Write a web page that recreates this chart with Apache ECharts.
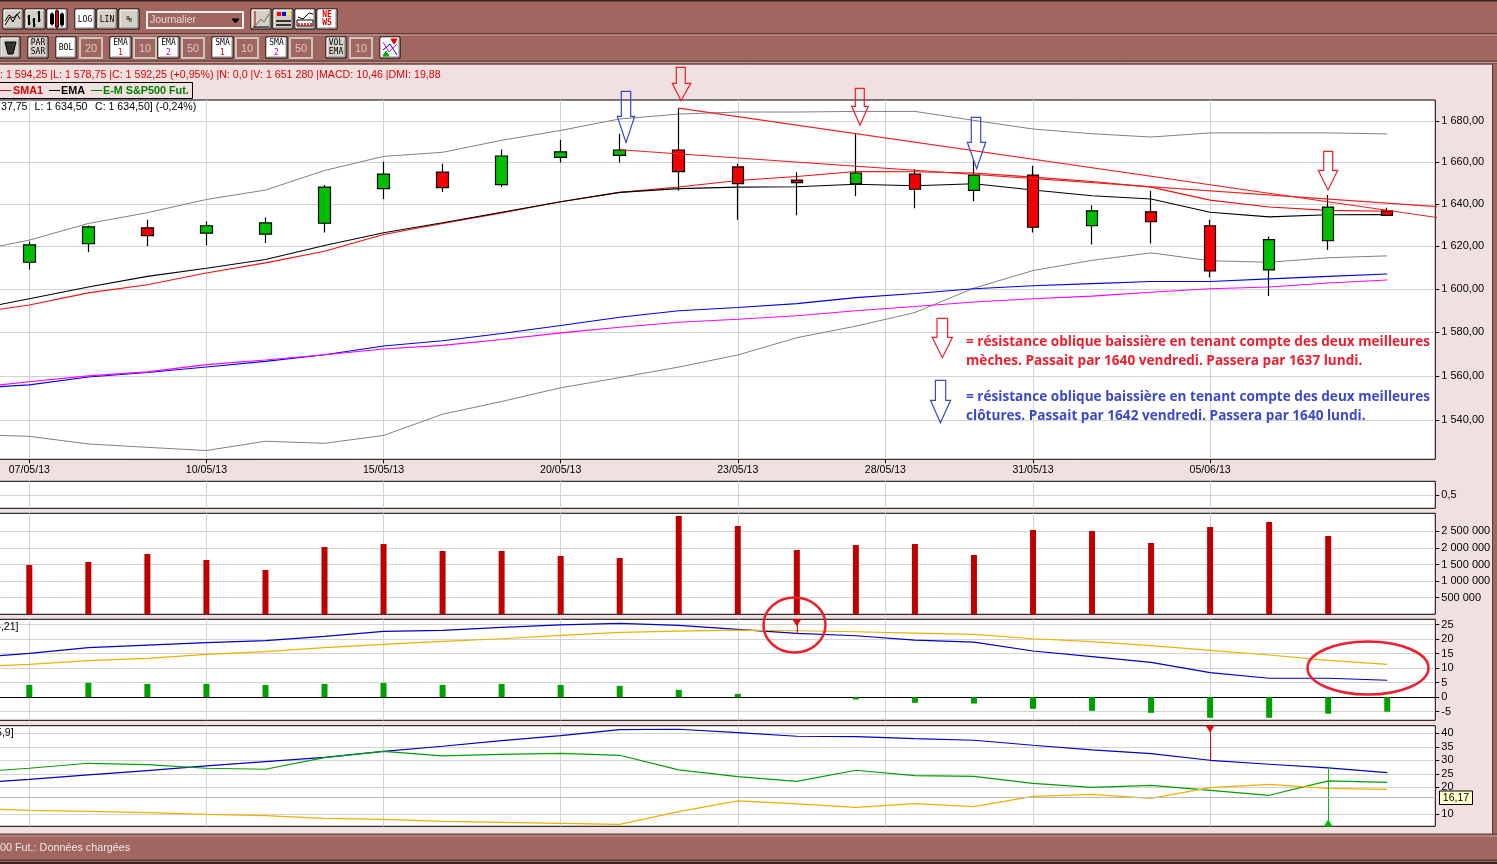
<!DOCTYPE html>
<html>
<head>
<meta charset="utf-8">
<style>html,body{margin:0;padding:0;background:#F0E0E0;overflow:hidden}#c{width:1497px;height:864px}</style>
<script src="https://cdn.jsdelivr.net/npm/echarts@6/dist/echarts.min.js"></script>
</head>
<body>
<div id="c"></div>
<script>
// ---------- data ----------
var sessions = [0,1,2,3,4,5,6,7,8,9,10,11,12,13,14,15,16,17,18,19,20,21,22,23];
var lineX = [-0.5].concat(sessions);
var open  = [1612.4,1621.1,1628.6,1626.1,1625.6,1630.8,1647.3,1655.2,1649.2,1662.3,1663.3,1665.9,1657.7,1651.4,1649.7,1654.3,1646.5,1653.8,1629.6,1636.2,1629.6,1608.8,1622.5,1636.7];
var close = [1620.6,1629.1,1624.9,1629.6,1631.0,1648.0,1654.3,1647.8,1663.0,1665.0,1665.9,1655.5,1649.7,1650.2,1654.8,1647.0,1653.8,1628.9,1636.7,1631.5,1608.3,1623.0,1638.5,1634.5];
var low   = [1609.0,1617.1,1620.0,1620.4,1621.4,1626.4,1642.3,1645.7,1648.1,1659.9,1659.9,1646.3,1632.5,1634.6,1643.7,1637.9,1641.2,1626.4,1620.8,1621.2,1605.3,1596.6,1618.1,1634.5];
var high  = [1622.2,1629.7,1632.5,1631.6,1633.5,1649.0,1660.2,1659.3,1666.1,1670.9,1673.8,1686.3,1659.3,1655.2,1673.8,1656.7,1661.2,1658.3,1639.2,1646.2,1632.5,1624.5,1644.2,1638.2];
var bollUpper = [1620.0,1622.8,1630.7,1635.8,1642.1,1646.6,1656.0,1662.8,1664.8,1670.6,1675.4,1681.0,1683.4,1684.4,1684.4,1684.7,1684.7,1680.3,1676.1,1673.8,1672.2,1674.2,1674.2,1674.2,1673.7];
var bollLower = [1533.2,1532.8,1529.4,1527.9,1526.5,1530.6,1529.7,1533.2,1542.7,1548.4,1554.6,1559.2,1564.0,1569.5,1577.4,1582.7,1589.0,1600.3,1608.5,1613.3,1616.8,1613.1,1612.4,1614.5,1615.4];
var emaShort = [1592.7,1595.4,1600.8,1605.8,1609.6,1613.7,1620.3,1626.3,1631.0,1636.0,1641.0,1645.5,1647.3,1648.0,1648.2,1649.4,1648.7,1649.6,1646.6,1643.9,1642.3,1636.0,1633.8,1634.8,1634.9];
var smaShort = [1590.5,1592.5,1598.1,1601.9,1607.4,1612.1,1617.6,1625.5,1630.7,1635.7,1641.0,1645.5,1648.1,1651.2,1653.1,1655.5,1655.4,1654.8,1652.8,1650.7,1648.0,1641.8,1638.5,1636.9,1636.5];
var emaLong = [1555.1,1555.9,1559.5,1561.5,1564.0,1566.6,1569.6,1573.6,1576.0,1579.3,1583.0,1586.8,1589.8,1591.3,1593.1,1595.9,1597.8,1600.0,1601.4,1602.4,1603.4,1603.4,1604.6,1605.8,1606.9];
var smaLong = [1555.9,1557.3,1560.0,1561.8,1565.1,1567.2,1569.6,1572.2,1573.9,1576.6,1579.6,1582.2,1584.5,1585.9,1587.5,1589.8,1591.8,1593.9,1595.4,1596.6,1598.4,1600.0,1600.8,1602.7,1604.1];
var trendWicks = [[11,1686.3],[24,1632.9]];
var trendCloses = [[10,1666.0],[23.95,1638.5]];
var volumeValues = [1485000,1575000,1816000,1636000,1334000,2027000,2117000,1907000,1907000,1756000,1696000,2961000,2660000,1937000,2087000,2117000,1786000,2539000,2509000,2148000,2629000,2780000,2358000];
var macdHist = [4.24,4.92,4.58,4.58,4.24,4.58,4.92,4.24,4.58,4.24,3.89,2.52,1.15,0.05,-0.8,-1.95,-2.2,-4,-4.7,-5.4,-7.1,-7.1,-5.7,-5];
var macdLine = [14.31,15.11,17.06,17.98,18.78,19.47,20.95,22.67,23.01,24.05,24.96,25.42,24.73,23.36,21.98,21.18,19.69,19.0,15.92,13.97,12.02,8.47,6.53,6.53,5.84];
var macdSignal = [10.88,11.34,12.6,13.4,14.77,15.69,17.06,18.21,19.24,20.15,21.3,22.33,22.79,23.13,22.9,22.56,22.1,21.64,20.15,19.12,17.75,16.14,14.54,12.71,11.34];
var dmiAdx = [22.22,22.96,24.57,26.17,27.9,29.51,31.11,33.33,35.19,37.28,39.14,41.36,41.48,40.25,38.89,38.77,38.02,37.41,35.56,33.83,32.47,30,28.52,27.16,25.43];
var dmiPlus = [26.3,27.04,28.89,28.39,27.04,26.67,30.99,33.33,31.6,32.22,32.59,31.85,26.42,23.95,22.22,26.3,24.32,24.07,21.48,20,20.74,18.89,17.04,22.35,21.85];
var dmiMinus = [11.85,11.48,11.11,10.62,10,9.5,8.52,8.15,7.41,7.04,6.67,6.3,10.99,14.94,13.83,12.59,13.95,12.84,16.67,17.41,15.93,19.88,21.11,19.63,19.26];
var dmiLast = 16.17;
var dateTicks = [0,3,6,9,12,14.5,17,20];
var dateLabels = ['07/05/13','10/05/13','15/05/13','20/05/13','23/05/13','28/05/13','31/05/13','05/06/13'];
var priceTicks = [1540,1560,1580,1600,1620,1640,1660,1680];
var volumeTicks = [500000,1000000,1500000,2000000,2500000];
var macdTicks = [-5,0,5,10,15,20,25];
var dmiGridTicks = [10,20,25,30,35,40];

// ---------- helpers ----------
var UI = 'Liberation Sans, Arial, sans-serif';
var RED='#EE2030', BLUE='#3B48CC', BROWN='#A16660', PINK='#F0E0E0';
var xMin=-0.5301, xMax=23.814;
function zip(xs,ys){return ys.map(function(v,i){return [xs[i],v];});}
function spaced(n){return String(n).replace(/\B(?=(\d{3})+(?!\d))/g,' ');}
function price(v){return spaced(Math.round(v))+',00';}
function pane(top,h){return {left:-2,top:top,width:1437.3,height:h,show:true,backgroundColor:'#fff',borderColor:'#000',borderWidth:1,containLabel:false,outerBoundsMode:'none'};}
function xAx(i,labels){
  return {gridIndex:i,type:'value',min:xMin,max:xMax,
    axisLine:{show:false,onZero:false},
    axisTick:{show:labels,customValues:dateTicks,length:4,inside:false,lineStyle:{color:'#000',width:1}},
    axisLabel:{show:labels,customValues:dateTicks,fontFamily:UI,fontSize:10.6,color:'#000',margin:5,hideOverlap:false,
      formatter:function(v){var k=dateTicks.indexOf(v);return k<0?'':dateLabels[k];}},
    splitLine:{show:true,lineStyle:{color:'#D3D3D3',width:1}}};
}
function yAx(i,o){
  var base={gridIndex:i,position:'right',scale:false,
    axisLine:{show:false,onZero:false},
    axisTick:{show:true,length:4,inside:false,lineStyle:{color:'#000',width:1}},
    axisLabel:{fontFamily:UI,fontSize:11,color:'#000',margin:6,align:'left',showMinLabel:true,showMaxLabel:true,hideOverlap:false},
    splitLine:{show:true,lineStyle:{color:'#D3D3D3',width:1}}};
  for(var k in o){ if(k==='ticks'){base.axisTick.customValues=o.ticks;} else if(k==='labels'){base.axisLabel.customValues=o.labels;} else if(k==='fmt'){base.axisLabel.formatter=o.fmt;} else base[k]=o[k]; }
  return base;
}
function ln(name,g,ys,color,w){
  return {name:name,type:'line',xAxisIndex:g,yAxisIndex:g,data:zip(lineX,ys),showSymbol:false,symbol:'none',silent:true,
    lineStyle:{color:color,width:w||1.1},z:2,animation:false};
}
// ---------- chrome ----------
var g=[];
function rect(x,y,w,h,fill,stroke,lw,z){g.push({type:'rect',z:z===undefined?-1:z,shape:{x:x,y:y,width:w,height:h},style:{fill:fill||'none',stroke:stroke||'none',lineWidth:lw||1},silent:true});}
function txt(x,y,s,color,size,opt){opt=opt||{};g.push({type:'text',z:opt.z===undefined?-1:opt.z,x:x,y:y,silent:true,style:{text:s,fill:color,font:(opt.bold?'bold ':'')+size+'px '+(opt.family||UI),textAlign:opt.align||'left',textVerticalAlign:'middle'}});}
function poly(pts,color,lw,z,closed,fill){g.push({type:closed?'polygon':'polyline',z:z===undefined?-1:z,silent:true,shape:{points:pts},style:{fill:fill||'none',stroke:color,lineWidth:lw||1}});}
function btn(x,y,w,h,fill){
  rect(x,y,w,h,fill,'#000',1);
  poly([[x+1,y+h-1],[x+1,y+1],[x+w-1,y+1]],'#fff',1);
  poly([[x+1.5,y+h-1],[x+w-1,y+h-1],[x+w-1,y+1.5]],'#808080',1);
}
function box(x,y,w,h,s){
  rect(x,y,w,h,BROWN,'#C9C5BE',2);
  txt(x+w/2,y+h/2+0.5,s,'#D8CCC8',11,{align:'center'});
}
var MONO='DejaVu Sans Mono, monospace';
rect(0,0,1497,864,PINK);
rect(0,0,1497,64.5,BROWN);
rect(0,0,1497,1.5,'#3a2422');
poly([[0,33.5],[1497,33.5]],'#5a3a36',1);
poly([[0,35],[1497,35]],'#C09A94',1);
poly([[0,61],[1497,61]],'#5a3a36',1);
poly([[0,62.5],[1497,62.5]],'#C09A94',1);
poly([[0,64],[1497,64]],'#5a3a36',1);
rect(1493,64,4,770,BROWN);
poly([[1492.5,64],[1492.5,834]],'#5a3a36',1);
rect(0,834,1497,30,BROWN);
poly([[0,834],[1497,834]],'#5a3a36',1);
poly([[0,836],[1497,836]],'#C09A94',1);
rect(0,859.5,1497,1.5,'#5a3a36');
rect(0,862,1497,2,'#3a2422');
txt(0,848.5,'00 Fut.: Données chargées','#F0E8E4',10.8);

// toolbar row 1
btn(3,9,20,20,'#D4D0C8');
poly([[5,25],[10,17],[13,22],[17,14],[20,19]],'#000',1);poly([[5,21],[9,15],[13,18],[20,12]],'#000',1);
btn(25,9,20,20,'#D4D0C8');
[[29,15,25],[34,18,27],[39,11,22]].forEach(function(b){poly([[b[0],b[1]],[b[0],b[2]]],'#000',2);poly([[b[0]-2,b[1]+2],[b[0],b[1]+2]],'#060',1);poly([[b[0],b[2]-2],[b[0]+2,b[2]-2]],'#060',1);});
btn(47,9,20,20,'#fff');
[[52,14,24,'#000'],[57,11,27,'#E00000'],[62,14,25,'#000']].forEach(function(b){poly([[b[0],b[1]-2],[b[0],b[2]+2]],'#000',1);rect(b[0]-1.5,b[1],3,b[2]-b[1],b[3],'#000',1);});
btn(75,9,20,20,'#fff');txt(85,19.5,'LOG','#000',8,{align:'center',family:MONO});
btn(97,9,20,20,'#D4D0C8');txt(107,19.5,'LIN','#000',8,{align:'center',family:MONO});
btn(119,9,20,20,'#D4D0C8');txt(129,19.5,'%','#000',9.5,{align:'center',family:MONO});
rect(147,12,96,16,BROWN,'#F5F0EE',2);txt(150,20,'Journalier','#E2D6D2',10.5);
poly([[232,19],[239,19],[235.5,23]],'#000',1,-1,true,'#000');
btn(251,9,20,20,'#D4D0C8');poly([[253,27],[269,27]],'#000',1);poly([[255,11],[255,27]],'#B00000',1);poly([[256,25],[261,19],[264,22],[269,14]],'#666',1);
btn(273,9,20,20,'#D4D0C8');rect(277,12,4,4,'#F00');rect(282,12,4,4,'#00F');rect(287,12,3,3,'#FF0');poly([[276,21],[291,21]],'#000',1.5);poly([[276,25],[291,25]],'#000',1.5);
btn(295,9,20,20,'#fff');poly([[298,17],[303,19],[309,13],[313,14]],'#000',1);rect(297,20,16,6,'none','#000',1);[299,302,305,308,311].forEach(function(x){poly([[x,26],[x,23]],'#E00000',1.5);});
btn(317,9,20,20,'#fff');txt(327,15,'NE','#E00000',8,{align:'center',bold:true,family:MONO});txt(327,23,'WS','#E00000',8,{align:'center',bold:true,family:MONO});
// toolbar row 2
btn(0,37,20,21,'#D4D0C8');poly([[5,42],[16,42],[13,54],[8,54]],'#000',1,-1,true,'#333');
btn(28,37,20,21,'#D4D0C8');txt(38,43,'PAR','#000',8,{align:'center',family:MONO});txt(38,52,'SAR','#000',8,{align:'center',family:MONO});
btn(56,37,20,21,'#fff');txt(66,48,'BOL','#000',8,{align:'center',family:MONO});
box(80,38,22,20,'20');
function ma(x,a,n,c){btn(x,37,21,21,'#fff');txt(x+10.5,43,a,'#000',8,{align:'center',family:MONO});txt(x+10.5,53,n,c,8,{align:'center',family:MONO});}
ma(110,'EMA','1','#E00000');box(134,38,22,20,'10');
ma(158,'EMA','2','#C000C0');box(182,38,22,20,'50');
ma(212,'SMA','1','#E00000');box(236,38,22,20,'10');
ma(266,'SMA','2','#C000C0');box(290,38,22,20,'50');
btn(326,37,20,21,'#D4D0C8');txt(336,43,'VOL','#000',8,{align:'center',family:MONO});txt(336,52,'EMA','#000',8,{align:'center',family:MONO});
box(350,38,22,20,'10');
btn(380,37,20,21,'#fff');poly([[383,42],[389,52],[397,44]],'#F000F0',1);poly([[383,50],[390,44],[397,55]],'#0000E0',1);poly([[391,39],[397,39],[394,44]],'#E00000',1,-1,true,'#E00000');poly([[383,56],[389,56],[386,51]],'#00B000',1,-1,true,'#00B000');

// info rows
txt(0,75,': 1 594,25 |L: 1 578,75 |C: 1 592,25 (+0,95%) |N: 0,0 |V: 1 651 280 |MACD: 10,46 |DMI: 19,88','#E00000',10.65);
rect(-2,82.5,194.5,16,'none','#000',1);
poly([[0,90.5],[11,90.5]],'#E00000',1);txt(13,91,'SMA1','#E00000',10.8,{bold:true});
poly([[49,90.5],[60,90.5]],'#000',1);txt(61,91,'EMA','#000',10.8,{bold:true});
poly([[91,90.5],[102,90.5]],'#008000',1);txt(103,91,'E-M S&P500 Fut.','#008000',10.8,{bold:true});
txt(1,107.5,'37,75','#000',10.6,{z:30});txt(34.5,107.5,'L: 1 634,50','#000',10.6,{z:30});txt(95,107.5,'C: 1 634,50] (-0,24%)','#000',10.6,{z:30});
txt(-5,627.5,'4,21]','#000',10.6,{z:30});
txt(-4,733.5,'5,9]','#000',10.6,{z:30});

// annotations
function arrow(l,r,top,sh,wl,wr,tx,ty,c){poly([[l,top],[r,top],[r,sh],[wr,sh],[tx,ty],[wl,sh],[l,sh]],c,1.2,50,true,'none');}
arrow(676.3,685.3,67.3,83.3,672.3,690.7,681,100.7,RED);
arrow(855.3,864.3,88.3,106.3,851.7,868.3,860,125.3,RED);
arrow(1323.7,1332.7,151.3,170.3,1318.3,1337.7,1328,190,RED);
arrow(937,947.6,318.3,337.3,932.2,952.5,942.3,357.7,RED);
arrow(621.3,630.7,91.3,116.3,617.3,634.7,626,142.7,BLUE);
arrow(971.3,980.7,117.3,142.3,967.3,985.7,976.7,168.7,BLUE);
arrow(935.4,945.7,380.3,400.3,930.5,950.6,940.4,422.7,BLUE);
var noteFont='Open Sans, sans-serif';
txt(966,342,'= résistance oblique baissière en tenant compte des deux meilleures',RED,13.6,{bold:true,z:50,family:noteFont});
txt(966,361,'mèches. Passait par 1640 vendredi. Passera par 1637 lundi.',RED,13.6,{bold:true,z:50,family:noteFont});
txt(966,397,'= résistance oblique baissière en tenant compte des deux meilleures',BLUE,13.6,{bold:true,z:50,family:noteFont});
txt(966,416,'clôtures. Passait par 1642 vendredi. Passera par 1640 lundi.',BLUE,13.6,{bold:true,z:50,family:noteFont});
g.push({type:'ellipse',z:50,silent:true,shape:{cx:794.5,cy:625,rx:31,ry:27.5},style:{fill:'none',stroke:RED,lineWidth:2.5}});
g.push({type:'ellipse',z:50,silent:true,shape:{cx:1368,cy:668,rx:60.5,ry:26.5},style:{fill:'none',stroke:RED,lineWidth:2.5}});
// last value tag
rect(1439.5,791,33,13.5,'#FFFFCC','#000',1,50);
txt(1456,798,String(dmiLast).replace('.',','),'#000',10.5,{align:'center',z:51});

// ---------- chart ----------
var chart=echarts.init(document.getElementById('c'),null,{renderer:'canvas'});
chart.setOption({
  animation:false,
  backgroundColor:PINK,
  graphic:{elements:g},
  grid:[pane(100,359.3),pane(481.3,27),pane(513.3,101),pane(619.3,101),pane(725.7,100.6)],
  xAxis:[xAx(0,true),xAx(1,false),xAx(2,false),
    (function(){var a=xAx(3,false);a.axisLine={show:true,onZero:true,lineStyle:{color:'#000',width:1}};return a;})(),
    xAx(4,false)],
  yAxis:[
    yAx(0,{type:'log',min:1522.6,max:1690.3,ticks:priceTicks,labels:priceTicks,fmt:price}),
    yAx(1,{type:'value',min:0,max:1,ticks:[0.5],labels:[0.5],fmt:function(v){return String(v).replace('.',',');}}),
    yAx(2,{type:'value',min:0,max:3042000,ticks:volumeTicks,labels:volumeTicks,fmt:spaced}),
    yAx(3,{type:'value',min:-7.97,max:26.85,ticks:macdTicks,labels:macdTicks,fmt:function(v){return String(v);}}),
    yAx(4,{type:'value',min:5.56,max:42.8,ticks:dmiGridTicks,labels:dmiGridTicks,fmt:function(v){return String(v);}})
  ],
  series:[
    ln('Bollinger haut',0,bollUpper,'#808080',1),
    ln('Bollinger bas',0,bollLower,'#808080',1),
    ln('EMA 2',0,emaLong,'#0000F0',1.1),
    ln('SMA 2',0,smaLong,'#FF00FF',1.1),
    ln('SMA1',0,smaShort,'#F01010',1.1),
    ln('EMA',0,emaShort,'#000000',1.1),
    {name:'E-M S&P500 Fut.',type:'candlestick',xAxisIndex:0,yAxisIndex:0,barWidth:12,z:3,silent:true,
      data:sessions.map(function(i){return [i,open[i],close[i],low[i],high[i]];}),
      encode:{x:0,y:[1,2,3,4]},
      itemStyle:{color:'#00BE00',color0:'#F50000',borderColor:'#000',borderColor0:'#000',borderWidth:1.2}},
    {name:'trend mèches',type:'line',xAxisIndex:0,yAxisIndex:0,data:trendWicks,clip:false,showSymbol:false,symbol:'none',z:4,silent:true,lineStyle:{color:'#F02020',width:1.1}},
    {name:'trend clôtures',type:'line',xAxisIndex:0,yAxisIndex:0,data:trendCloses,clip:false,showSymbol:false,symbol:'none',z:4,silent:true,lineStyle:{color:'#F02020',width:1.1}},
    {name:'Volume',type:'bar',xAxisIndex:2,yAxisIndex:2,barWidth:6,silent:true,data:zip(sessions,volumeValues),itemStyle:{color:'#C00000'}},
    {name:'MACD hist',type:'bar',xAxisIndex:3,yAxisIndex:3,barWidth:6,silent:true,data:zip(sessions,macdHist),itemStyle:{color:'#00A000'}},
    (function(){var s=ln('MACD',3,macdLine,'#0000C8',1.2);
      s.markLine={silent:true,symbol:'none',label:{show:false},lineStyle:{color:'#F00000',width:1,type:'solid'},animation:false,data:[[{coord:[13,26.85]},{coord:[13,macdLine[14]]}]]};
      s.markPoint={silent:true,symbol:'triangle',symbolSize:[9,7],symbolRotate:180,label:{show:false},itemStyle:{color:'#F00000'},animation:false,data:[{coord:[13,25.7]}]};
      return s;})(),
    ln('Signal',3,macdSignal,'#F0B000',1.2),
    (function(){var s=ln('ADX',4,dmiAdx,'#0000C8',1.2);
      s.markLine={silent:true,symbol:'none',label:{show:false},lineStyle:{color:'#F00000',width:1,type:'solid'},animation:false,data:[[{coord:[20,42.8]},{coord:[20,dmiAdx[21]]}]]};
      s.markPoint={silent:true,symbol:'triangle',symbolSize:[9,7],symbolRotate:180,label:{show:false},itemStyle:{color:'#F00000'},animation:false,data:[{coord:[20,41.6]}]};
      return s;})(),
    (function(){var s=ln('DI+',4,dmiPlus,'#00A000',1.2);
      s.markLine={silent:true,symbol:'none',label:{show:false},lineStyle:{color:'#00C000',width:1,type:'solid'},animation:false,data:[[{coord:[22,27.65]},{coord:[22,5.56]}]]};
      s.markPoint={silent:true,symbol:'triangle',symbolSize:[9,7],label:{show:false},itemStyle:{color:'#00C000'},animation:false,data:[{coord:[22,6.8]}]};
      return s;})(),
    (function(){var s=ln('DI-',4,dmiMinus,'#F0B000',1.2);
      s.markLine={silent:true,symbol:'none',label:{show:false},lineStyle:{color:'#BBBBBB',width:1,type:'solid'},animation:false,data:[{yAxis:dmiLast}]};
      return s;})()
  ]
});
</script>
</body>
</html>
